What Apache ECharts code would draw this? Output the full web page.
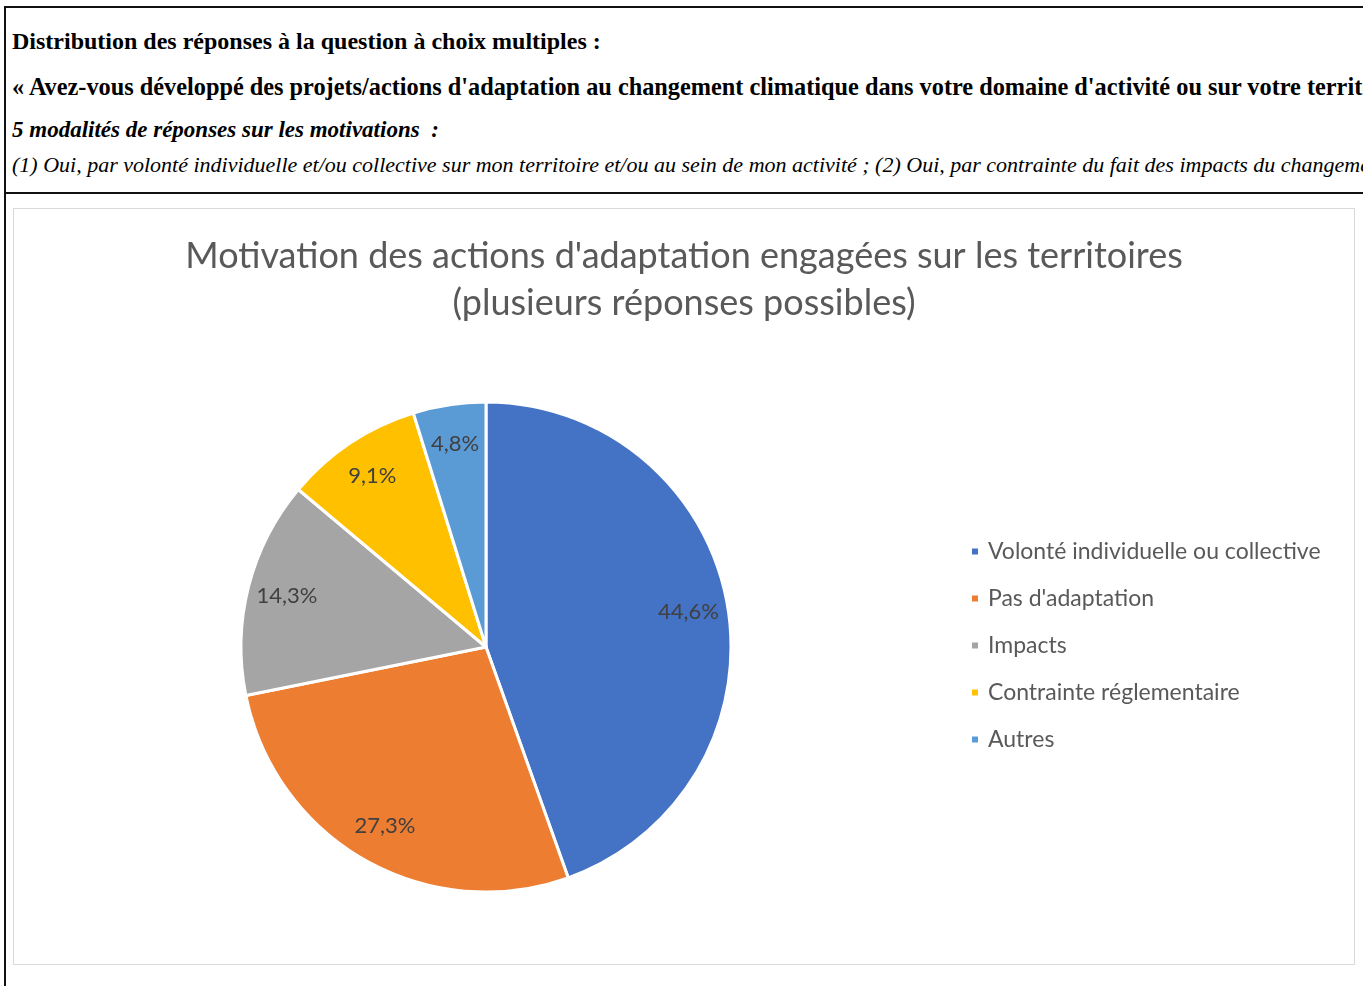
<!DOCTYPE html>
<html>
<head>
<meta charset="utf-8">
<script src="https://cdn.jsdelivr.net/npm/echarts@6/dist/echarts.min.js"></script>
<style>
  html, body { margin: 0; padding: 0; background: #fff; overflow: hidden; }
  body { width: 1363px; height: 986px; position: relative; }
  .frame { position: absolute; left: 4px; top: 6px; width: 1400px; height: 1000px;
    border-left: 2px solid #111; border-top: 2px solid #111; }
  .sep { position: absolute; left: 4px; top: 192px; width: 1400px; height: 0; border-top: 2px solid #111; }
  .head { position: absolute; left: 12px; white-space: nowrap; color: #000; line-height: 28px;
    font-family: "Liberation Serif", "DejaVu Serif", serif; font-size: 24px; }
  .b { font-weight: bold; }
  .b2 { font-weight: bold; font-size: 24.3px; }
  .bi { font-weight: bold; font-style: italic; font-size: 23px; }
  .i { font-style: italic; font-size: 22px; }
  #chart { position: absolute; left: 13px; top: 208px; width: 1342px; height: 757px;
    border: 1px solid #d9d9d9; box-sizing: border-box; }
</style>
</head>
<body>
<div class="frame"></div>
<div class="sep"></div>
<div class="head b" style="top:27px">Distribution des réponses à la question à choix multiples :</div>
<div class="head b2" style="top:73px">« Avez-vous développé des projets/actions d'adaptation au changement climatique dans votre domaine d'activité ou sur votre territoire ? »</div>
<div class="head bi" style="top:116px">5 modalités de réponses sur les motivations&nbsp; :</div>
<div class="head i" style="top:151px">(1) Oui, par volonté individuelle et/ou collective sur mon territoire et/ou au sein de mon activité ; (2) Oui, par contrainte du fait des impacts du changement climatique ;</div>
<div id="chart"></div>
<script>
const categories = ['Volonté individuelle ou collective', "Pas d'adaptation", 'Impacts', 'Contrainte réglementaire', 'Autres'];
const values = [44.6, 27.3, 14.3, 9.1, 4.8];
const colors = ['#4472C4', '#ED7D31', '#A5A5A5', '#FFC000', '#5B9BD5'];

const chart = echarts.init(document.getElementById('chart'), null, { renderer: 'canvas' });
const pieData = categories.map((name, i) => ({ name: name, value: values[i] }));
const fontFam = 'Lato, "Open Sans", sans-serif';

chart.setOption({
  animation: false,
  color: colors,
  title: {
    text: "Motivation des actions d'adaptation engagées sur les territoires\n(plusieurs réponses possibles)",
    left: 'center',
    top: 19,
    textStyle: { fontFamily: fontFam, fontSize: 36, fontWeight: 'normal', color: '#595959', lineHeight: 47 }
  },
  legend: {
    orient: 'vertical',
    left: 956,
    top: 331,
    padding: 0,
    icon: 'rect',
    itemWidth: 8,
    itemHeight: 8,
    itemGap: 24,
    data: categories,
    textStyle: { fontFamily: fontFam, fontSize: 23, color: '#595959', lineHeight: 23, padding: [0, 0, 0, 4] }
  },
  series: [
    {
      type: 'pie',
      center: [472, 438],
      radius: 245,
      startAngle: 90,
      clockwise: true,
      data: pieData,
      itemStyle: { borderColor: '#fff', borderWidth: 3 },
      label: { show: false },
      labelLine: { show: false },
      emphasis: { disabled: true }
    },
    {
      // transparent ring used only to place the percentage labels near the rim
      type: 'pie',
      center: [472, 438],
      radius: [160, 245],
      startAngle: 90,
      clockwise: true,
      silent: true,
      data: pieData,
      itemStyle: { color: 'rgba(0,0,0,0)' },
      label: {
        show: true,
        position: 'inside',
        fontFamily: fontFam,
        fontSize: 22,
        color: '#404040',
        formatter: p => p.value.toFixed(1).replace('.', ',') + '%'
      },
      labelLine: { show: false },
      emphasis: { disabled: true }
    }
  ]
});
</script>
</body>
</html>
